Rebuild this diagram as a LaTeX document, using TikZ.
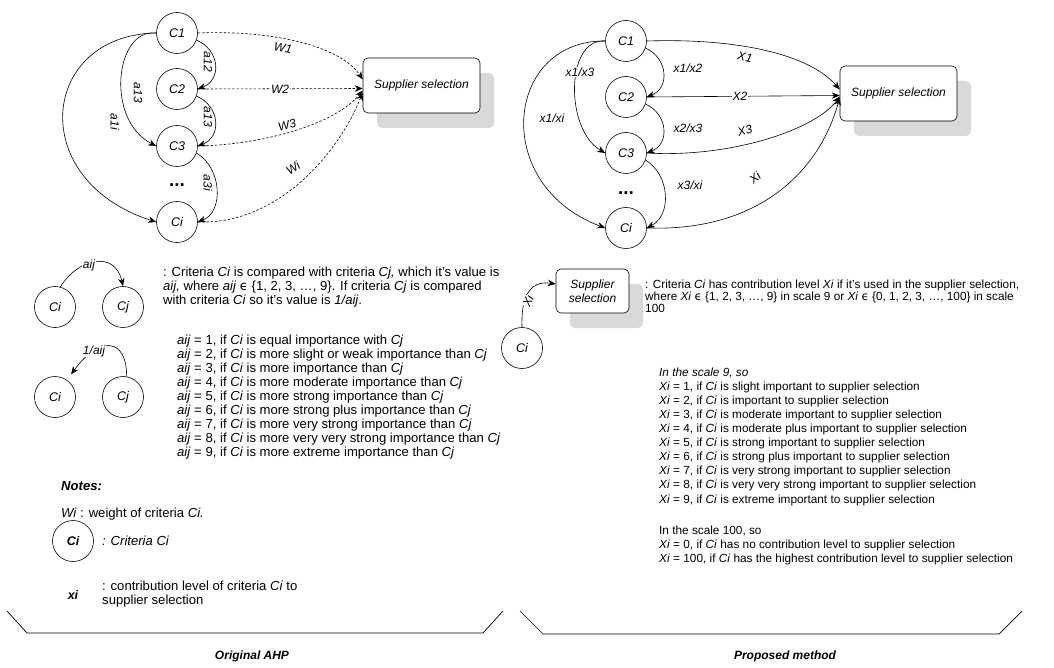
\documentclass[tikz,border=0pt]{standalone}
\usepackage{fontspec}
\setmainfont{Liberation Sans}
\newfontfamily\dejavu{DejaVu Sans}
\usetikzlibrary{arrows.meta,shadows}
\definecolor{shgray}{RGB}{217,217,217}
\newcommand{\elemof}{{\dejavu ϵ}}
\begin{document}
\begin{tikzpicture}[x=1pt,y=-1pt,
  crit/.style={circle,draw,line width=0.6pt,minimum size=41pt,inner sep=0pt,font=\fontsize{12.5}{15}\selectfont\itshape},
  sbox/.style={draw,line width=0.6pt,rounded corners=5pt,fill=white,align=center,inner sep=2pt,
    font=\fontsize{12}{14.5}\selectfont\itshape,
    drop shadow={shadow xshift=14pt,shadow yshift=-15pt,fill=shgray,opacity=1}},
  lbl/.style={inner sep=0.5pt,font=\fontsize{12}{14}\selectfont\itshape},
  wlbl/.style={lbl,fill=white},
  conn/.style={line width=0.6pt,-{Stealth[length=8pt,width=6.5pt]}},
  dconn/.style={conn,dash pattern=on 2.5pt off 1.8pt},
  ltx/.style={anchor=base west,inner sep=0pt,font=\fontsize{13.1}{15}\selectfont},
  rtx/.style={anchor=base west,inner sep=0pt,font=\fontsize{11.8}{14}\selectfont},
  dotsn/.style={anchor=base,inner sep=0pt,font=\fontsize{19}{19}\selectfont\bfseries},
  brk/.style={line width=0.7pt},
  ttl/.style={inner sep=0pt,font=\fontsize{12}{14}\selectfont\bfseries\itshape}
]
\useasboundingbox (0,0) rectangle (1054,668);

% ---------------- left top diagram ----------------
\node[crit] (A1) at (177,33) {C1};
\node[crit] (A2) at (177,89) {C2};
\node[crit] (A3) at (177,146) {C3};
\node[crit] (Ai) at (177,222) {Ci};
\node[dotsn] (Ad) at (177,187) {...};
\node[sbox,minimum width=117pt,minimum height=55pt] (SL) at (421.5,85.5) {Supplier selection};

\draw[conn] (A1.-20) .. controls (220,50) and (222,80) .. (A2.east);
\draw[conn] (A2.-20) .. controls (220,106) and (222,137) .. (A3.east);
\draw[conn] (A3.-20) .. controls (222,168) and (224,212) .. (Ai.east);
\draw[conn] (A1.west) .. controls (115,28) and (105,120) .. (A3.west);
\draw[conn] (A1.west) .. controls (40,35) and (25,180) .. (Ai.west);

\draw[dconn] (A1.east) .. controls (270,30) and (340,45) .. ([yshift=6pt]SL.west);
\draw[dconn] (A2.east) -- ([yshift=-3pt]SL.west);
\draw[dconn] (A3.east) .. controls (260,145) and (335,125) .. ([yshift=-5pt]SL.west);
\draw[dconn] (Ai.east) .. controls (280,225) and (340,150) .. ([yshift=-7pt]SL.west);

\node[lbl,rotate=-90] (la12) at (208,62) {a12};
\node[lbl,rotate=-90] (la23) at (208,117) {a13};
\node[lbl,rotate=-90] (la3i) at (208,183) {a3i};
\node[lbl,rotate=-90] (la13) at (138,93) {a13};
\node[lbl,rotate=-90] (la1i) at (115,122) {a1i};
\node[lbl,rotate=-10] (lw1) at (283,48) {W1};
\node[wlbl] (lw2) at (280,89) {W2};
\node[lbl,rotate=15] (lw3) at (287,125) {W3};
\node[lbl,rotate=35] (lwi) at (293,168) {Wi};

% ---------------- right top diagram ----------------
\node[crit] (B1) at (626,41) {C1};
\node[crit] (B2) at (626,97) {C2};
\node[crit] (B3) at (626,153) {C3};
\node[crit] (Bi) at (626,228) {Ci};
\node[dotsn] (Bd) at (626,194.5) {...};
\node[sbox,minimum width=117pt,minimum height=55pt] (SR) at (898.5,93.5) {Supplier selection};

\draw[conn] (B1.-20) .. controls (668,58) and (670,88) .. (B2.east);
\draw[conn] (B2.-20) .. controls (668,114) and (670,144) .. (B3.east);
\draw[conn] (B3.-20) .. controls (670,175) and (672,215) .. (Bi.east);
\draw[conn] (B1.west) .. controls (565,38) and (565,130) .. (B3.west);
\draw[conn] (B1.west) .. controls (505,40) and (490,185) .. (Bi.west);

\draw[conn] (B1.east) .. controls (740,38) and (810,55) .. ([yshift=4pt]SR.west);
\draw[conn] (B2.east) -- ([yshift=-2pt]SR.west);
\draw[conn] (B3.east) .. controls (730,158) and (815,130) .. ([yshift=-3pt]SR.west);
\draw[conn] (Bi.east) .. controls (760,232) and (820,170) .. ([yshift=-4pt]SR.west);

\node[lbl] (lx12) at (688,68) {x1/x2};
\node[lbl] (lx23) at (688,128) {x2/x3};
\node[lbl] (lx3i) at (690,185) {x3/xi};
\node[wlbl] (lx13) at (580,72) {x1/x3};
\node[lbl] (lx1i) at (552,118) {x1/xi};
\node[lbl,rotate=-12] (lX1) at (745,57) {X1};
\node[wlbl] (lX2) at (740,96) {X2};
\node[lbl,rotate=15] (lX3) at (745,131) {X3};
\node[lbl,rotate=40] (lXi) at (755,178) {Xi};

% ---------------- left legend ----------------
\node[crit] (La) at (55,307) {Ci};
\node[crit] (Lb) at (123,307) {Cj};
\draw[conn] (La.75) .. controls (78,258) and (115,250) .. (Lb.north);
\node[wlbl] (laij) at (89,265) {aij};

\node[crit] (Lc) at (55,397) {Ci};
\node[crit] (Ld) at (123,397) {Cj};
\draw[conn,shorten >=7pt] (Ld.80) .. controls (127,338) and (100,335) .. (Lc.55);
\node[wlbl] (l1aij) at (94,351) {1/aij};

\node[ltx] (p1) at (163,276.5) {: Criteria \textit{Ci} is compared with criteria \textit{Cj,} which it’s value is};
\node[ltx] (p2) at (163,290.5) {\textit{aij,} where \textit{aij} \elemof{} \{1, 2, 3, …, 9\}. If criteria \textit{Cj} is compared};
\node[ltx] (p3) at (163,304.5) {with criteria \textit{Ci} so it’s value is \textit{1/aij}.};

\node[ltx] (q1) at (177,344.5) {\textit{aij} = 1, if \textit{Ci} is equal importance with \textit{Cj}};
\node[ltx] (q2) at (177,358.5) {\textit{aij} = 2, if \textit{Ci} is more slight or weak importance than \textit{Cj}};
\node[ltx] (q3) at (177,372.5) {\textit{aij} = 3, if \textit{Ci} is more importance than \textit{Cj}};
\node[ltx] (q4) at (177,386.5) {\textit{aij} = 4, if \textit{Ci} is more moderate importance than \textit{Cj}};
\node[ltx] (q5) at (177,400.5) {\textit{aij} = 5, if \textit{Ci} is more strong importance than \textit{Cj}};
\node[ltx] (q6) at (177,414.5) {\textit{aij} = 6, if \textit{Ci} is more strong plus importance than \textit{Cj}};
\node[ltx] (q7) at (177,428.5) {\textit{aij} = 7, if \textit{Ci} is more very strong importance than \textit{Cj}};
\node[ltx] (q8) at (177,442.5) {\textit{aij} = 8, if \textit{Ci} is more very very strong importance than \textit{Cj}};
\node[ltx] (q9) at (177,456.5) {\textit{aij} = 9, if \textit{Ci} is more extreme importance than \textit{Cj}};

% notes
\node[ltx] (n0) at (61,490.5) {\bfseries\itshape Notes:};
\node[ltx] (n1) at (61,517.5) {\textit{Wi} : weight of criteria \textit{Ci.}};
\node[crit,font=\fontsize{12.5}{15}\selectfont\bfseries\itshape] (Lg) at (73,541) {Ci};
\node[ltx] (n2) at (102,545.5) {\textit{: Criteria Ci}};
\node[anchor=base,inner sep=0pt,font=\fontsize{12.5}{15}\selectfont\bfseries\itshape] (nx) at (73,599) {xi};
\node[ltx] (n3) at (102,590.5) {: contribution level of criteria \textit{Ci} to};
\node[ltx] (n4) at (102,604.5) {supplier selection};

% ---------------- right legend ----------------
\node[crit] (Lr) at (522,348) {Ci};
\node[sbox,minimum width=73pt,minimum height=44pt] (SS) at (592.5,291) {Supplier\\selection};
\draw[conn] (Lr.north) .. controls (521,300) and (528,280) .. ([yshift=7pt]SS.west);
\node[wlbl,rotate=65] (lXs) at (528,301) {Xi};

\node[rtx] (r1) at (645,288.2) {: Criteria \textit{Ci} has contribution level \textit{Xi} if it’s used in the supplier selection,};
\node[rtx] (r2) at (645,300.2) {where \textit{Xi} \elemof{} \{1, 2, 3, …, 9\} in scale 9 or \textit{Xi} \elemof{} \{0, 1, 2, 3, …, 100\} in scale};
\node[rtx] (r3) at (645,312.2) {100};

\node[rtx] (s0) at (659,376.2) {\textit{In the scale 9, so}};
\node[rtx] (s1) at (659,390.2) {\textit{Xi} = 1, if \textit{Ci} is slight important to supplier selection};
\node[rtx] (s2) at (659,404.3) {\textit{Xi} = 2, if \textit{Ci} is important to supplier selection};
\node[rtx] (s3) at (659,418.4) {\textit{Xi} = 3, if \textit{Ci} is moderate important to supplier selection};
\node[rtx] (s4) at (659,432.5) {\textit{Xi} = 4, if \textit{Ci} is moderate plus important to supplier selection};
\node[rtx] (s5) at (659,446.6) {\textit{Xi} = 5, if \textit{Ci} is strong important to supplier selection};
\node[rtx] (s6) at (659,460.7) {\textit{Xi} = 6, if \textit{Ci} is strong plus important to supplier selection};
\node[rtx] (s7) at (659,474.8) {\textit{Xi} = 7, if \textit{Ci} is very strong important to supplier selection};
\node[rtx] (s8) at (659,488.9) {\textit{Xi} = 8, if \textit{Ci} is very very strong important to supplier selection};
\node[rtx] (s9) at (659,503.0) {\textit{Xi} = 9, if \textit{Ci} is extreme important to supplier selection};

\node[rtx] (u0) at (659,534.2) {In the scale 100, so};
\node[rtx] (u1) at (659,548.2) {\textit{Xi} = 0, if \textit{Ci} has no contribution level to supplier selection};
\node[rtx] (u2) at (659,562.2) {\textit{Xi} = 100, if \textit{Ci} has the highest contribution level to supplier selection};

% ---------------- brackets and titles ----------------
\draw[brk] (7,611) -- (27,633) -- (483,633) -- (503,611);
\draw[brk] (520,611) -- (543,634) -- (999,634) -- (1022,611);
\node[ttl] (t1) at (252,656) {Original AHP};
\node[ttl] (t2) at (785,656) {Proposed method};
\end{tikzpicture}
\end{document}
